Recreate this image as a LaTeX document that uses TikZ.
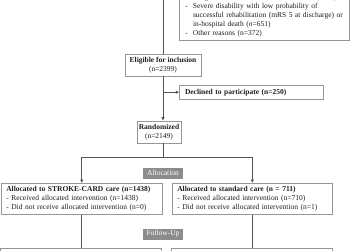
\documentclass[tikz,border=0pt]{standalone}
\usepackage{fontspec}
\setmainfont{Liberation Serif}
\usetikzlibrary{arrows.meta}
\definecolor{boxgray}{RGB}{150,150,150}
\definecolor{linegray}{RGB}{85,85,85}
\definecolor{stagegray}{RGB}{140,140,140}
\definecolor{txt}{RGB}{30,30,30}
\begin{document}
\begin{tikzpicture}[x=1pt,y=-1pt,
  font=\fontsize{7.5}{9}\selectfont, text=txt,
  box/.style={draw=boxgray, line width=0.6pt, fill=white, inner sep=0pt},
  flow/.style={draw=linegray, line width=0.7pt},
  arr/.style={flow, -{Latex[length=3.5pt,width=3.5pt]}},
  stage/.style={fill=stagegray, text=white, minimum width=40pt, minimum height=11pt, inner sep=0pt}
]
\useasboundingbox (0,0) rectangle (350,250);
\fill[white] (0,0) rectangle (350,250);
\clip (0,0) rectangle (350,250);

% exclusions box (top, clipped)
\node[box, anchor=south west, text width=158pt, inner xsep=6pt, inner ysep=2.8pt, align=left] (excl) at (179,41)
{\begin{tabular}{@{}l@{\hspace{5.2pt}}l@{}}
- & Drug addiction or severe mental illness (\textit{n}=17)\\
- & Severe disability with low probability of\\
  & successful rehabilitation (mRS 5 at discharge) or\\
  & in-hospital death (\textit{n}=651)\\
- & Other reasons (n=372)
\end{tabular}};

\coordinate (topin) at (163,-2);

\node[box, minimum width=76pt, minimum height=22pt, align=center] (elig) at (163,65)
  {\textbf{Eligible for inclusion}\\(n=2399)};

\node[box, anchor=west, minimum height=14pt, text width=132.6pt, inner xsep=5.4pt, align=left] (decl) at (179.3,92.2)
  {\textbf{Declined to participate (n=250)}};

\node[box, minimum width=44pt, minimum height=22pt, align=center] (rand) at (159,132)
  {\textbf{Randomized}\\(n=2149)};

\node[stage] (alloc) at (163,173) {Allocation};

\node[box, anchor=north west, text width=151pt, inner xsep=5pt, inner ysep=3pt, minimum height=31pt, align=left] (stroke) at (1,183)
  {\textbf{Allocated to STROKE-CARD care (n=1438)}\\
   - Received allocated intervention (n=1438)\\
   - Did not receive allocated intervention (n=0)};

\node[box, anchor=north west, text width=150pt, inner xsep=5pt, inner ysep=3pt, minimum height=31pt, align=left] (std) at (172,183)
  {\textbf{Allocated to standard care (n = 711)}\\
   - Received allocated intervention (n=710)\\
   - Did not receive allocated intervention (n=1)};

\node[stage] (fu) at (163,234) {Follow-Up};

\node[box, anchor=north west, minimum width=161pt, minimum height=20pt] (botL) at (0,248) {};
\node[box, anchor=north west, minimum width=161pt, minimum height=20pt] (botR) at (171,248) {};

% connectors
\draw[flow] (topin) -- (elig.north);
\coordinate (br) at (elig.south |- decl.west);
\draw[arr] (br) -- (decl.west);
\draw[arr] (elig.south) -- (elig.south |- rand.north);
\coordinate (split) at (163,157);
\draw[flow] (elig.south |- rand.south) -- (split);
\draw[arr] (split) -| (stroke.north);
\draw[arr] (split) -| (std.north);
\draw[flow] (stroke.south) -- (stroke.south |- botL.north);
\draw[flow] (std.south) -- (std.south |- botR.north);
\end{tikzpicture}
\end{document}
